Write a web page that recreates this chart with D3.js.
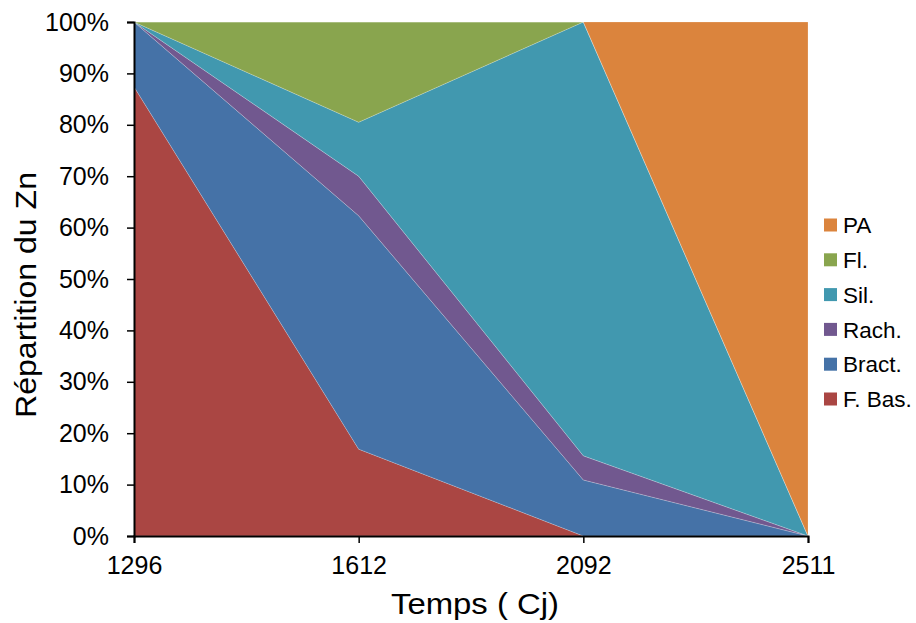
<!DOCTYPE html>
<html><head><meta charset="utf-8">
<script src="https://cdn.jsdelivr.net/npm/d3@7"></script>
<style>body{margin:0;background:#fff}svg{display:block;font-family:"Liberation Sans",Arial,sans-serif}</style>
</head><body><svg id="c" width="916" height="623"></svg>
<script>
const categories = ["1296","1612","2092","2511"];
const seriesNames = ["F. Bas.","Bract.","Rach.","Sil.","Fl.","PA"];
const fBas  = [87.4, 16.9, 0, 0];
const bract = [12.6, 45.4, 10.9, 0];
const rach  = [0, 7.7, 4.7, 0];
const sil   = [0, 10.5, 84.4, 0];
const fl    = [0, 19.5, 0, 0];
const pa    = [0, 0, 0, 100];
const colors = ["#AA4643","#4572A7","#71588F","#4198AF","#89A54E","#DB843D"];
const yTicks = [0,10,20,30,40,50,60,70,80,90,100];

const allSeries = [fBas,bract,rach,sil,fl,pa];
const rows = categories.map((c,i)=>{const r={cat:c}; seriesNames.forEach((n,k)=>r[n]=allSeries[k][i]); return r;});
const stack = d3.stack().keys(seriesNames).offset(d3.stackOffsetExpand)(rows);

const svg = d3.select("#c");
const L=134,R=808,T=22,B=536;
const x = d3.scalePoint().domain(categories).range([L,R]);
const y = d3.scaleLinear().domain([0,1]).range([B,T]);

const area = d3.area().x(d=>x(d.data.cat)).y0(d=>y(d[0])).y1(d=>y(d[1]));
svg.append("g").selectAll("path").data(stack).join("path")
  .attr("d",area).attr("fill",(d,i)=>colors[i])
  .attr("stroke","rgba(255,255,255,0.35)").attr("stroke-width",0.6);

// y axis
const ya = svg.append("g").attr("transform",`translate(${L},0)`)
  .call(d3.axisLeft(y).tickValues(yTicks.map(v=>v/100)).tickFormat(v=>Math.round(v*100)+"%").tickSize(7).tickPadding(18));
ya.select(".domain").attr("stroke","#000").attr("stroke-width",2);
ya.selectAll(".tick line").attr("stroke","#000").attr("stroke-width",1.5);
ya.selectAll("text").attr("font-size",25).attr("fill","#000").attr("font-family","Liberation Sans, Arial, sans-serif");

// x axis
const xa = svg.append("g").attr("transform",`translate(0,${B})`)
  .call(d3.axisBottom(x).tickSize(7).tickPadding(13));
xa.select(".domain").attr("stroke","#000").attr("stroke-width",2);
xa.selectAll(".tick line").attr("stroke","#000").attr("stroke-width",1.5);
xa.selectAll("text").attr("font-size",25).attr("fill","#000").attr("font-family","Liberation Sans, Arial, sans-serif");

// titles
svg.append("text").attr("x",475).attr("y",614).attr("text-anchor","middle")
  .attr("font-size",29).attr("textLength",168).attr("lengthAdjust","spacingAndGlyphs").text("Temps (  Cj)");
svg.append("text").attr("transform","translate(36,295) rotate(-90)").attr("text-anchor","middle")
  .attr("font-size",30).attr("textLength",246).attr("lengthAdjust","spacingAndGlyphs").text("Répartition du Zn");

// legend (reverse order)
const legOrder = seriesNames.map((n,i)=>({n,c:colors[i]})).reverse();
const lg = svg.append("g").selectAll("g").data(legOrder).join("g")
  .attr("transform",(d,i)=>`translate(824,${225+i*34.8})`);
lg.append("rect").attr("x",0).attr("y",-6.5).attr("width",13).attr("height",13).attr("fill",d=>d.c);
lg.append("text").attr("x",19).attr("y",0).attr("dy","0.36em").attr("font-size",22.5).text(d=>d.n);
</script></body></html>
